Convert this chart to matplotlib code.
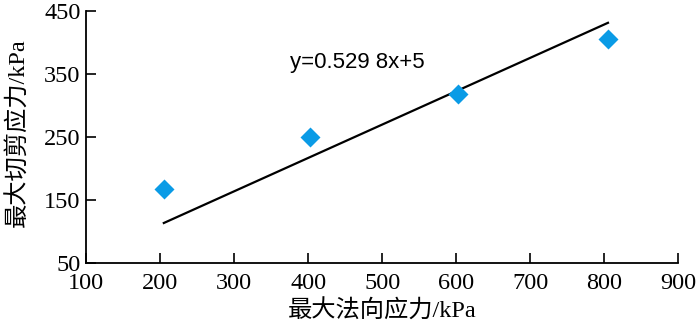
import numpy as np
from matplotlib import pyplot as plt

# measured points
normal_stress = [205, 403, 603, 805]
shear_stress = [168, 250, 318, 405]

# fit line y = 0.5298x + 5
slope = 0.5298
intercept = 5
fit_x = [205, 805]

xticks = [100, 200, 300, 400, 500, 600, 700, 800, 900]
yticks = [50, 150, 250, 350, 450]

plt.rcParams['font.family'] = ['Liberation Serif', 'Noto Sans CJK SC']

fig = plt.figure(figsize=(7, 3.28), dpi=100)
ax = fig.add_axes([0.123, 0.198, 0.846, 0.768])

fx = np.array(fit_x)
ax.plot(fx, slope * fx + intercept, color='black', lw=1.6, zorder=2)
ax.plot(normal_stress, shear_stress, 'D', color='#0A9BE6', ms=10.5, mec='none', zorder=3)

ax.text(375, 369, "y=0.529 8x+5", family=['Liberation Sans'], fontsize=16, va='center', ha='left')

ax.set_xlim(100, 900)
ax.set_ylim(50, 450)
ax.set_xticks(xticks)
ax.set_yticks(yticks)
ax.tick_params(direction='in', length=7, width=1.2, labelsize=17.5)
ax.tick_params(axis='x', pad=7)
ax.tick_params(axis='y', pad=4)
ax.spines['top'].set_visible(False)
ax.spines['right'].set_visible(False)
ax.spines['left'].set_linewidth(1.3)
ax.spines['bottom'].set_linewidth(1.3)

ax.set_xlabel("最大法向应力/kPa", fontsize=17.5, va='center')
ax.set_ylabel("最大切剪应力/kPa", fontsize=17.5, va='center')
ax.xaxis.set_label_coords(0.5, -0.19)
ax.yaxis.set_label_coords(-0.115, 0.516)

fig.savefig("out.png", dpi=100)
